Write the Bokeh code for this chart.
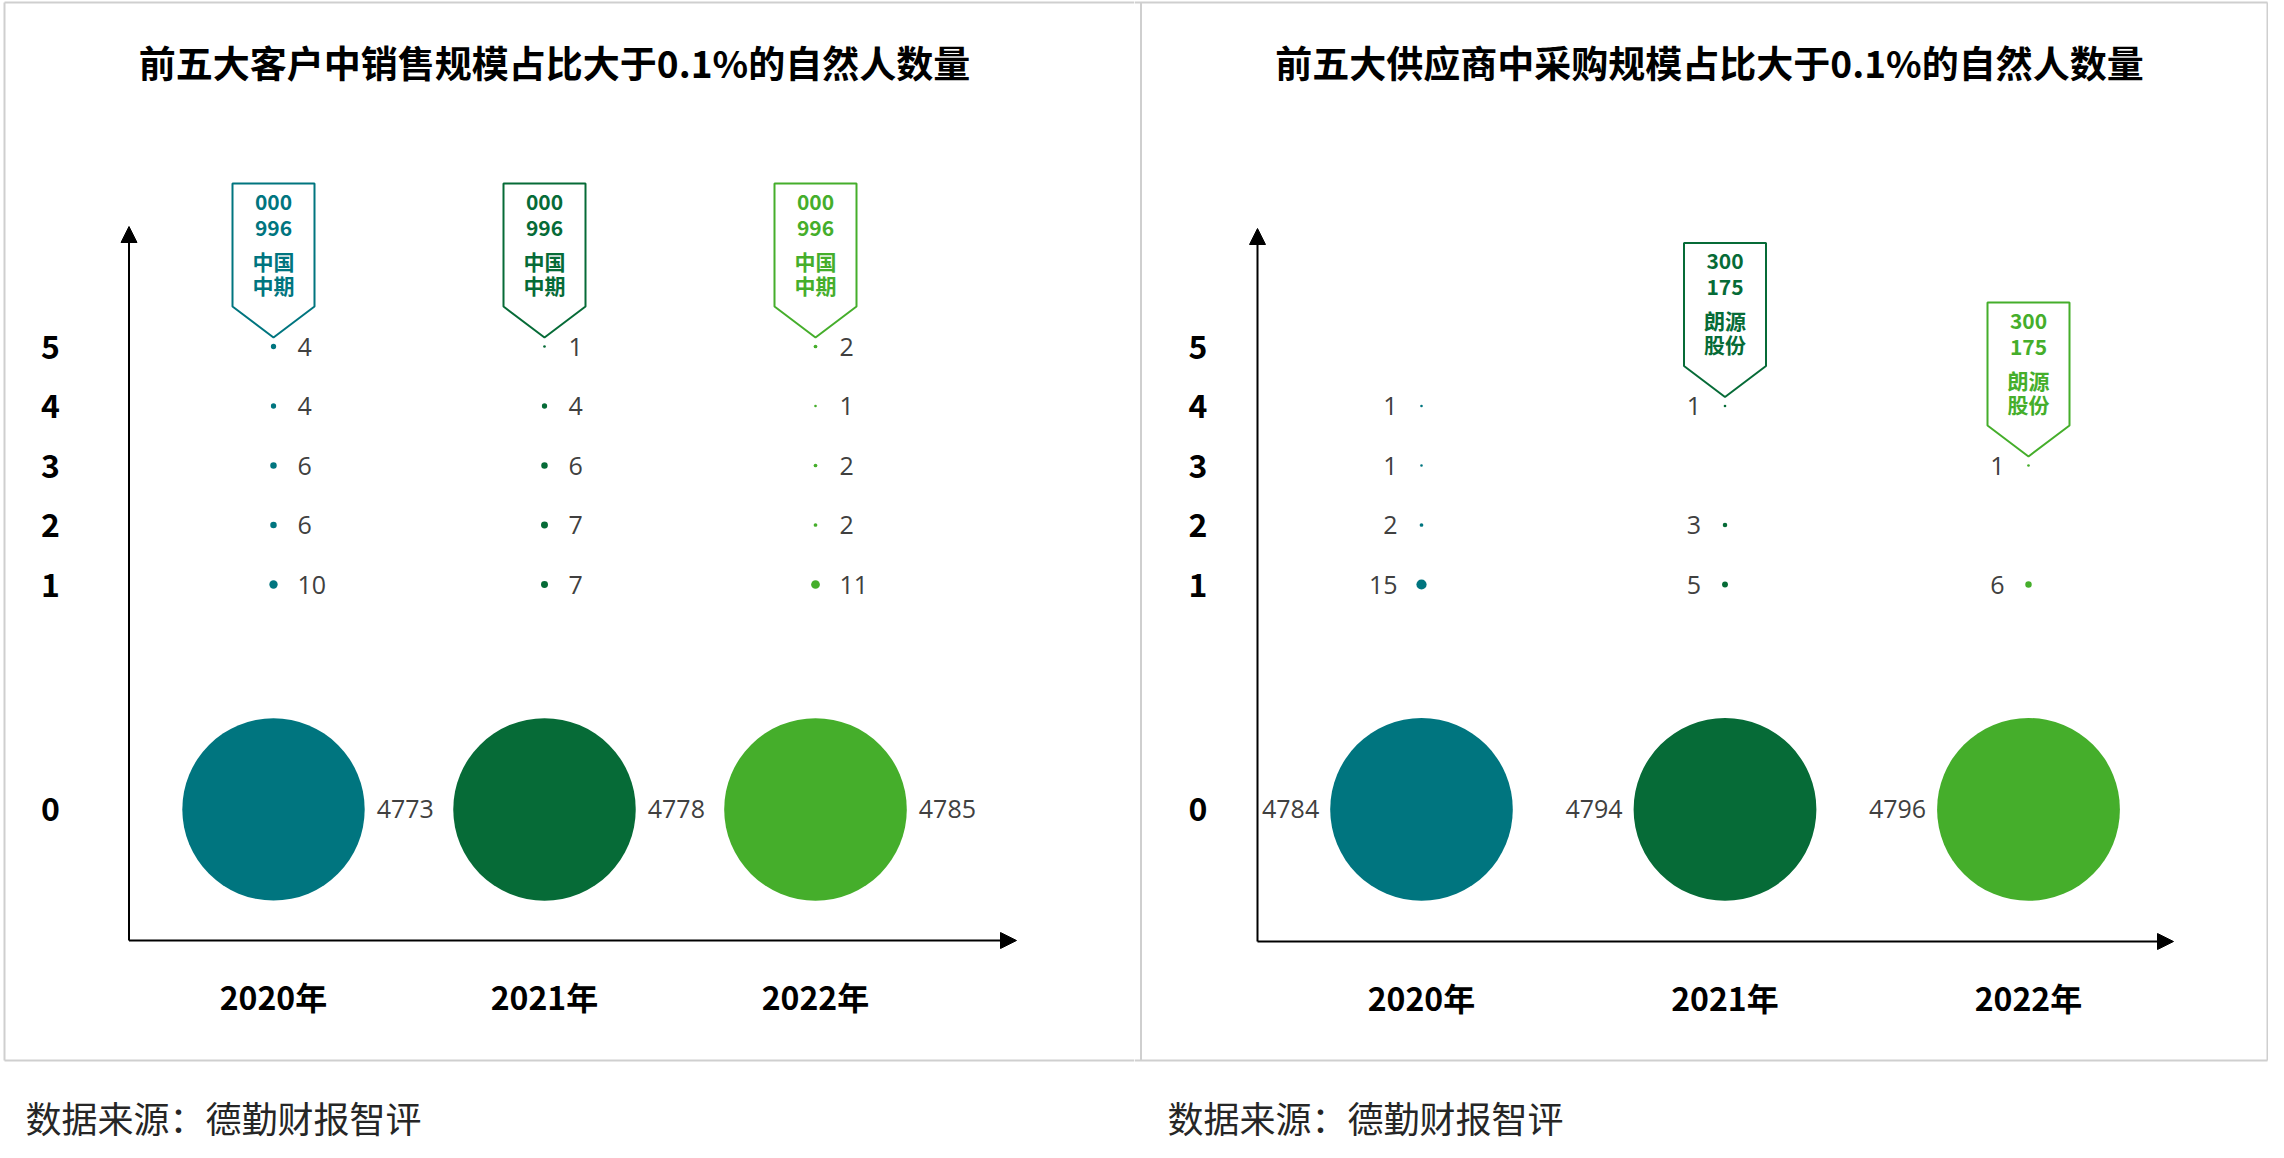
import math
from bokeh.plotting import figure
from bokeh.models import (ColumnDataSource, Range1d, LinearAxis, FixedTicker,
                          Arrow, NormalHead, Label)
from bokeh.layouts import row
from bokeh.embed import file_html
from bokeh.resources import INLINE
from bokeh.core.properties import value

# ---------------- data ----------------
YEARS = ["2020年", "2021年", "2022年"]
LEVELS = [0, 1, 2, 3, 4, 5]          # number of natural persons
COLORS = ["#00757f", "#066b37", "#45ae2b"]

# number of companies at each level (0..5), per year
CUST_2020 = [4773, 10, 6, 6, 4, 4]
CUST_2021 = [4778, 7, 7, 6, 4, 1]
CUST_2022 = [4785, 11, 2, 2, 1, 2]
SUPP_2020 = [4784, 15, 2, 1, 1, None]
SUPP_2021 = [4794, 5, 3, None, 1, None]
SUPP_2022 = [4796, 6, None, 1, None, None]

CUST_TITLE = "前五大客户中销售规模占比大于0.1%的自然人数量"
SUPP_TITLE = "前五大供应商中采购规模占比大于0.1%的自然人数量"
SOURCE_TEXT = "数据来源：德勤财报智评"

# callouts: (year index, level, text lines)
CUST_CALLOUTS = [(0, 5, ["000", "996", "中国", "中期"]),
                 (1, 5, ["000", "996", "中国", "中期"]),
                 (2, 5, ["000", "996", "中国", "中期"])]
SUPP_CALLOUTS = [(1, 4, ["300", "175", "朗源", "股份"]),
                 (2, 3, ["300", "175", "朗源", "股份"])]

# ---------------- layout (screen pixels) ----------------
FIG_W, FIG_H = 1134, 1142
PAGE_TOP = 0
ROW1_PX = 584.0
ROW_STEP = 59.5
ROW0 = -2.78          # position of level 0 on the (broken) level axis
LEVEL_POS = [ROW0, 1, 2, 3, 4, 5]
SIZE_K = 2.64         # bubble diameter px per sqrt(count)
CJK = "Noto Sans CJK SC"


def make_panel(fig_left, col0, col_step, axis_x, axis_y, xtip, ytip,
               title_cx, src_x, labels_right, ylab_standoff, series, callouts,
               title, edges):
    def x_of(px):
        return (px - col0) / col_step

    def y_of(py):
        return 1 + (ROW1_PX - py) / ROW_STEP

    p = figure(width=FIG_W, height=FIG_H, output_backend="svg",
               toolbar_location=None, x_axis_type=None, y_axis_type=None,
               x_range=Range1d(x_of(fig_left), x_of(fig_left + FIG_W)),
               y_range=Range1d(y_of(PAGE_TOP + FIG_H), y_of(PAGE_TOP)),
               min_border=0, outline_line_color=None,
               background_fill_color="white", border_fill_color="white")
    p.grid.visible = False

    # panel border
    segs = dict(x0=[], y0=[], x1=[], y1=[])
    for a, b, c, d in edges:
        segs["x0"].append(x_of(a)); segs["y0"].append(y_of(b))
        segs["x1"].append(x_of(c)); segs["y1"].append(y_of(d))
    p.segment(source=ColumnDataSource(segs), x0="x0", y0="y0", x1="x1",
              y1="y1", line_color="#cfcfcf", line_width=2)

    # bubbles
    bx, by, bs, bc, lt, dx = [], [], [], [], [], []
    for yi, ser in enumerate(series):
        for lv, v in zip(LEVELS, ser):
            if v is None:
                continue
            bx.append(yi)
            by.append(LEVEL_POS[lv])
            d = SIZE_K * math.sqrt(v)
            bs.append(d)
            bc.append(COLORS[yi])
            lt.append(str(v))
            r = d / 2
            off = max(r + 12, 24) if labels_right else -max(r + 11, 24)
            dx.append(off)
    src = ColumnDataSource(dict(x=bx, y=by, size=bs, color=bc, t=lt, dx=dx))
    p.scatter(x="x", y="y", size="size", fill_color="color", line_color=None,
              source=src)
    p.text(x="x", y="y", text="t", x_offset="dx", source=src,
           text_align="left" if labels_right else "right",
           text_baseline="middle", text_font=value("Open Sans"),
           text_font_size="25px", text_color="#404040")

    # callouts
    hw, tip, rb, top = 41, 9, 40, 163
    pxs, pys, pcs = [], [], []
    tx, ty, tt, tc = [], [], [], []
    line_d = [18, 44, 77, 101]
    for yi, lv, lines in callouts:
        cx, cy = yi, LEVEL_POS[lv]
        sx, sy = 1 / col_step, 1 / ROW_STEP
        pxs.append([cx, cx + hw * sx, cx + hw * sx, cx - hw * sx, cx - hw * sx])
        pys.append([cy + tip * sy, cy + rb * sy, cy + top * sy, cy + top * sy,
                    cy + rb * sy])
        pcs.append(COLORS[yi])
        for dd, s in zip(line_d, lines):
            tx.append(cx); ty.append(cy + (top - dd) * sy)
            tt.append(s); tc.append(COLORS[yi])
    p.patches(xs="xs", ys="ys", source=ColumnDataSource(dict(xs=pxs, ys=pys, c=pcs)),
              fill_color="white", line_color="c", line_width=2)
    p.text(x="x", y="y", text="t", text_color="c",
           source=ColumnDataSource(dict(x=tx, y=ty, t=tt, c=tc)),
           text_align="center", text_baseline="middle", text_font=value(CJK),
           text_font_style="bold", text_font_size="21px")

    # axes lines with arrows
    head = dict(size=16, fill_color="black", line_color="black", line_width=1)
    p.add_layout(Arrow(end=NormalHead(**head), line_color="black", line_width=2,
                       x_start=x_of(axis_x), y_start=y_of(axis_y),
                       x_end=x_of(axis_x), y_end=y_of(ytip)))
    p.add_layout(Arrow(end=NormalHead(**head), line_color="black", line_width=2,
                       x_start=x_of(axis_x), y_start=y_of(axis_y),
                       x_end=x_of(xtip), y_end=y_of(axis_y)))

    axis_style = dict(axis_line_color=None, major_tick_line_color=None,
                      minor_tick_line_color=None,
                      major_label_text_font=CJK,
                      major_label_text_font_size="32px",
                      major_label_text_font_style="bold",
                      major_label_text_color="black")
    yax = LinearAxis(fixed_location=x_of(axis_x),
                     ticker=FixedTicker(ticks=[float(v) for v in LEVEL_POS]),
                     major_label_overrides={float(pos): str(lv) for lv, pos in zip(LEVELS, LEVEL_POS)},
                     major_label_standoff=ylab_standoff, **axis_style)
    p.add_layout(yax, "left")
    xax = LinearAxis(fixed_location=y_of(axis_y),
                     ticker=FixedTicker(ticks=[0.0, 1.0, 2.0]),
                     major_label_overrides={float(i): y for i, y in enumerate(YEARS)},
                     major_label_standoff=26, **axis_style)
    p.add_layout(xax, "below")

    # title and source
    p.add_layout(Label(x=x_of(title_cx), y=y_of(61), text=title,
                       text_align="center", text_baseline="middle",
                       text_font=CJK, text_font_size="37px",
                       text_font_style="bold", text_color="black"))
    p.add_layout(Label(x=x_of(src_x), y=y_of(1116), text=SOURCE_TEXT,
                       text_align="left", text_baseline="middle",
                       text_font=CJK, text_font_size="36px",
                       text_color="#262626"))
    return p


left = make_panel(fig_left=0, col0=273, col_step=271, axis_x=128.5, axis_y=940,
                  xtip=1016, ytip=226, title_cx=554, src_x=25, labels_right=True,
                  ylab_standoff=63, series=[CUST_2020, CUST_2021, CUST_2022],
                  callouts=CUST_CALLOUTS, title=CUST_TITLE,
                  edges=[(4, 2, 1134, 2), (4, 2, 4, 1060), (4, 1060, 1134, 1060)])
right = make_panel(fig_left=1134, col0=1421, col_step=303.5, axis_x=1257, axis_y=941,
                   xtip=2173, ytip=228, title_cx=1709, src_x=1167, labels_right=False,
                   ylab_standoff=44, series=[SUPP_2020, SUPP_2021, SUPP_2022],
                   callouts=SUPP_CALLOUTS, title=SUPP_TITLE,
                   edges=[(1134, 2, 2267, 2), (1140.5, 2, 1140.5, 1060),
                          (2267, 2, 2267, 1060), (1134, 1060, 2267, 1060)])

layout = row(left, right)
open("out.html", "w").write(file_html(layout, INLINE))
